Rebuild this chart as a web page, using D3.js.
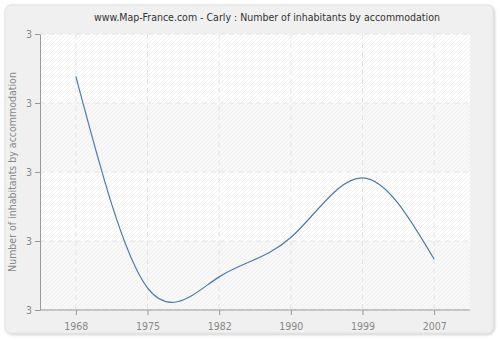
<!DOCTYPE html>
<html><head><meta charset="utf-8">
<script src="https://cdn.jsdelivr.net/npm/d3@7"></script>
<style>body{margin:0;background:#fff}svg{display:block}</style>
</head><body>
<script>
const years = ["1968","1975","1982","1990","1999","2007"];
const values = [3.277, 2.664, 2.696, 2.810, 2.983, 2.747];
const yTicks = [2.6, 2.8, 3.0, 3.2, 3.4];
const title = "www.Map-France.com - Carly : Number of inhabitants by accommodation";
const yLabel = "Number of inhabitants by accommodation";

const FONT = "'DejaVu Sans Condensed', 'DejaVu Sans', sans-serif";
const W = 500, H = 340;
const m = {l: 40, r: 30, t: 34, b: 30};
const svg = d3.select("body").append("svg").attr("width", W).attr("height", H);
const defs = svg.append("defs");
const f = defs.append("filter").attr("id","sh").attr("x","-5%").attr("y","-5%").attr("width","110%").attr("height","110%");
f.append("feGaussianBlur").attr("in","SourceAlpha").attr("stdDeviation",1.5);
f.append("feOffset").attr("dx",1).attr("dy",1).attr("result","b");
f.append("feComponentTransfer").append("feFuncA").attr("type","linear").attr("slope",0.25);
const fm = f.append("feMerge"); fm.append("feMergeNode"); fm.append("feMergeNode").attr("in","SourceGraphic");
const pat = defs.append("pattern").attr("id","hatch").attr("patternUnits","userSpaceOnUse")
  .attr("width",4).attr("height",4);
pat.append("path").attr("d","M-1,5 L5,-1 M-1,1 L1,-1 M3,5 L5,3").attr("stroke","#ececec").attr("stroke-width",0.7);

svg.append("rect").attr("x",5).attr("y",5).attr("width",488).attr("height",328).attr("rx",6)
  .attr("fill","#f0f0f0").attr("stroke","#e2e2e2").attr("filter","url(#sh)");

const x = d3.scalePoint().domain(years).range([m.l, W - m.r]).padding(0.5);
const y = d3.scaleLinear().domain([2.6, 3.4]).range([H - m.b, m.t]);

const g = svg.append("g");
for (let i = 0; i < yTicks.length - 1; i++) {
  const y0 = y(yTicks[i+1]), y1 = y(yTicks[i]);
  g.append("rect").attr("x", m.l).attr("y", y0).attr("width", W - m.r - m.l).attr("height", y1 - y0)
    .attr("fill", (yTicks.length - 2 - i) % 2 === 0 ? "#ffffff" : "#f8f8f8");
  g.append("rect").attr("x", m.l).attr("y", y0).attr("width", W - m.r - m.l).attr("height", y1 - y0)
    .attr("fill", "url(#hatch)");
}
g.selectAll(".gy").data(yTicks).join("line")
  .attr("x1", m.l).attr("x2", W - m.r).attr("y1", d => y(d)).attr("y2", d => y(d))
  .attr("stroke", "#e4e4e4").attr("stroke-dasharray", "5,4");
g.selectAll(".gx").data(years).join("line")
  .attr("x1", d => x(d)).attr("x2", d => x(d)).attr("y1", m.t).attr("y2", H - m.b)
  .attr("stroke", "#e4e4e4").attr("stroke-dasharray", "5,4");

const line = d3.line().x((d, i) => x(years[i])).y(d => y(d)).curve(d3.curveNatural);
svg.append("path").datum(values).attr("d", line).attr("fill", "none")
  .attr("stroke", "#4a7ab0").attr("stroke-width", 1.2);

const ax = svg.append("g").attr("transform", `translate(0,${H - m.b})`)
  .call(d3.axisBottom(x).tickSize(5).tickSizeOuter(0));
const ay = svg.append("g").attr("transform", `translate(${m.l},0)`)
  .call(d3.axisLeft(y).tickValues(yTicks).tickFormat(d3.format(".0f")).tickSize(5).tickSizeOuter(0));
[ax, ay].forEach(a => {
  a.select(".domain").attr("stroke", "#999");
  a.selectAll(".tick line").attr("stroke", "#999");
  a.selectAll("text").attr("fill", "#888").attr("font-family", FONT).attr("font-size", 10.5);
});
ax.selectAll("text").attr("dy", "1.1em");
ax.select(".domain").attr("d", `M${m.l},0H${W - m.r}`);

svg.append("text").attr("x", 267).attr("y", 21).attr("text-anchor", "middle")
  .attr("font-family", FONT).attr("font-size", 10.5).attr("fill", "#333").text(title);
svg.append("text").attr("transform", `translate(16,${(m.t + H - m.b) / 2}) rotate(-90)`)
  .attr("text-anchor", "middle").attr("font-family", FONT)
  .attr("font-size", 10.5).attr("fill", "#888").text(yLabel);
</script>
</body></html>
